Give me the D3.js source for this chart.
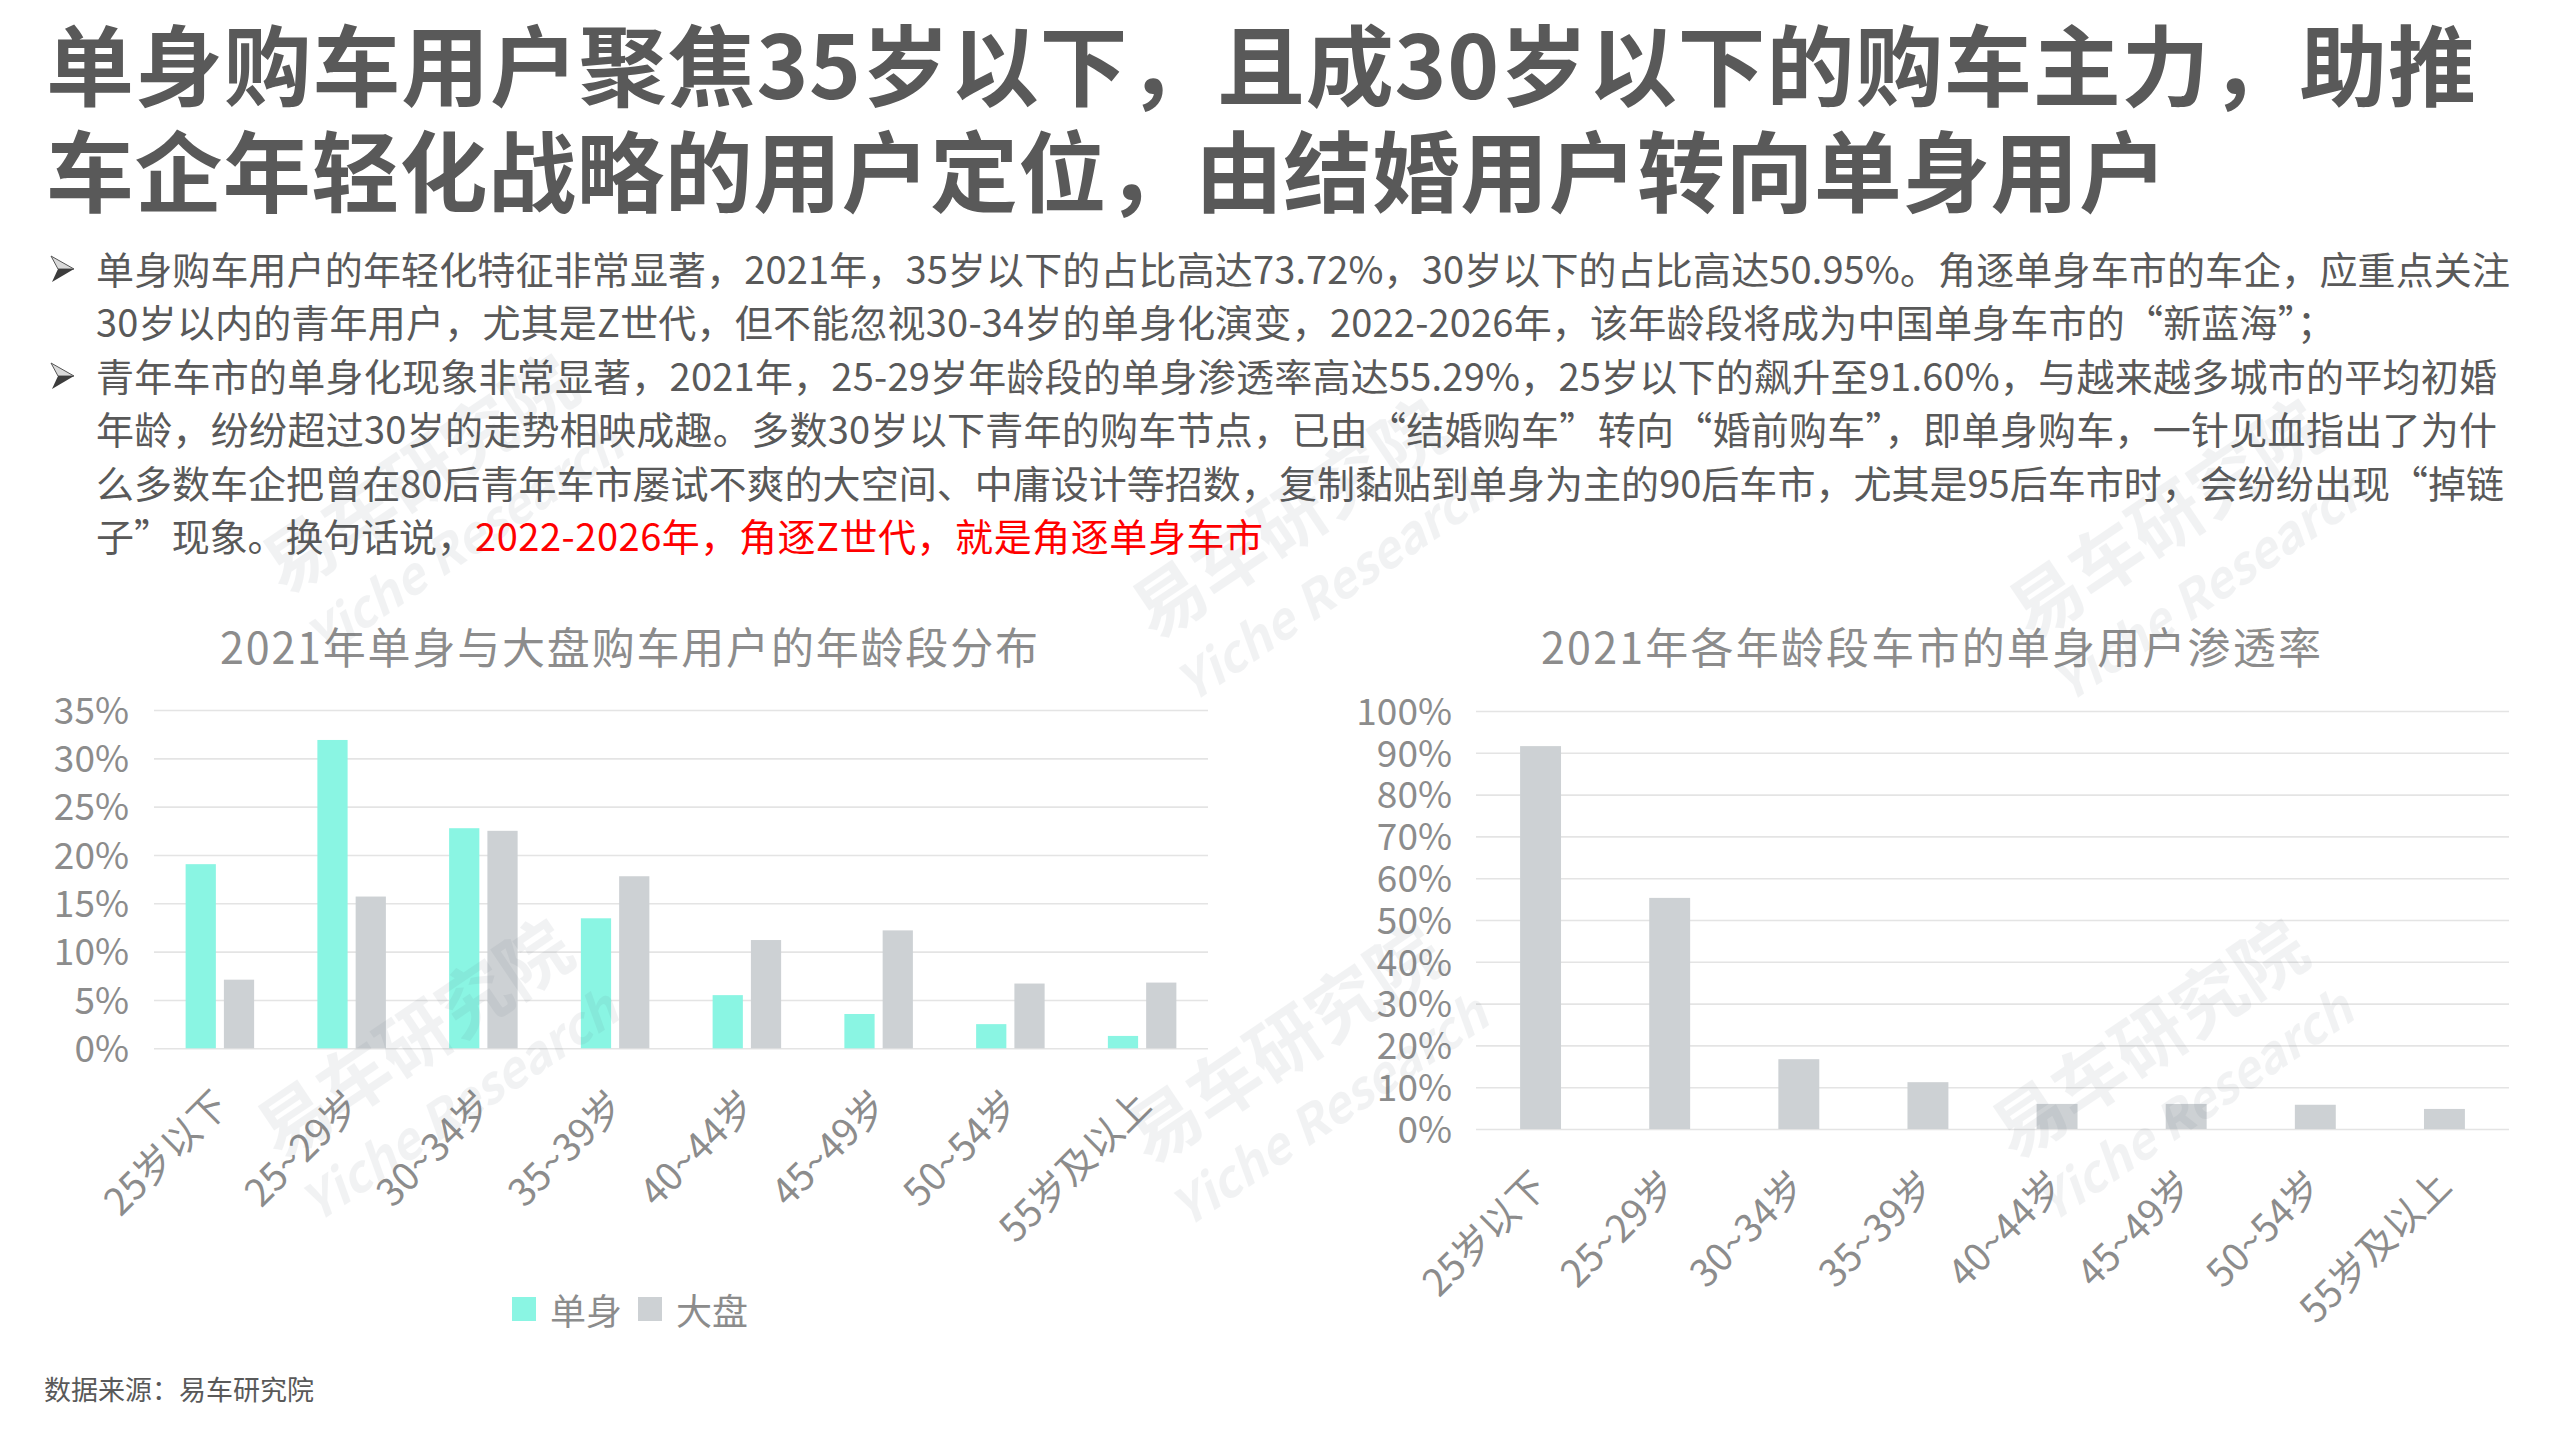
<!DOCTYPE html>
<html><head><meta charset="utf-8">
<script src="https://cdn.jsdelivr.net/npm/d3@7"></script>
<style>
html,body{margin:0;padding:0;background:#fff;}
svg{display:block;}
text{font-family:"Microsoft YaHei","Noto Sans CJK SC","Noto Sans",sans-serif;}
</style></head><body>
<svg id="c" width="2560" height="1440"></svg>
<script>
// ---------- data ----------
const titleLines = [
  "单身购车用户聚焦35岁以下，且成30岁以下的购车主力，助推",
  "车企年轻化战略的用户定位，由结婚用户转向单身用户"
];
const bullet1Lines = [
  "单身购车用户的年轻化特征非常显著，2021年，35岁以下的占比高达73.72%，30岁以下的占比高达50.95%。角逐单身车市的车企，应重点关注",
  "30岁以内的青年用户，尤其是Z世代，但不能忽视30-34岁的单身化演变，2022-2026年，该年龄段将成为中国单身车市的“新蓝海”；"
];
const bullet2Lines = [
  "青年车市的单身化现象非常显著，2021年，25-29岁年龄段的单身渗透率高达55.29%，25岁以下的飙升至91.60%，与越来越多城市的平均初婚",
  "年龄，纷纷超过30岁的走势相映成趣。多数30岁以下青年的购车节点，已由“结婚购车”转向“婚前购车”，即单身购车，一针见血指出了为什",
  "么多数车企把曾在80后青年车市屡试不爽的大空间、中庸设计等招数，复制黏贴到单身为主的90后车市，尤其是95后车市时，会纷纷出现“掉链",
  "子”现象。换句话说，"
];
const bullet2Highlight = "2022-2026年，角逐Z世代，就是角逐单身车市";
const leftTitle = "2021年单身与大盘购车用户的年龄段分布";
const rightTitle = "2021年各年龄段车市的单身用户渗透率";
const categories = ["25岁以下","25~29岁","30~34岁","35~39岁","40~44岁","45~49岁","50~54岁","55岁及以上"];
const seriesNames = ["单身","大盘"];
const singleShare  = [19.05, 31.90, 22.77, 13.45, 5.50, 3.55, 2.50, 1.28];
const overallShare = [7.1, 15.7, 22.5, 17.8, 11.2, 12.2, 6.7, 6.8];
const penetration  = [91.60, 55.29, 16.7, 11.2, 6.0, 6.0, 5.8, 4.8];
const leftTicks  = [0,5,10,15,20,25,30,35];
const rightTicks = [0,10,20,30,40,50,60,70,80,90,100];
const sourceText = "数据来源：易车研究院";
const watermarkCN = "易车研究院";
const watermarkEN = "Yiche Research";

// ---------- styles ----------
const C_TITLE = "#595959", C_BODY = "#595959", C_AX = "#8c8c8c";
const C_SINGLE = "#8af5e3", C_ALL = "#cdd1d4", C_GRID = "#e4e4e4";
const svg = d3.select("#c");

// ---------- header ----------
svg.append("text").attr("x",46).attr("y",99).attr("font-size",88).attr("font-weight",700)
  .attr("fill",C_TITLE).attr("textLength",2430).attr("lengthAdjust","spacing").text(titleLines[0]);
svg.append("text").attr("x",46).attr("y",205).attr("font-size",88).attr("font-weight",700)
  .attr("fill",C_TITLE).attr("textLength",2121).attr("lengthAdjust","spacing").text(titleLines[1]);

// bullets
const lineY0 = 283.5, lineStep = 53.5, textX = 96;
const lineEnds = [2510, 2335, 2497, 2497, 2504];
const allLines = bullet1Lines.concat(bullet2Lines.slice(0,3));
allLines.forEach((t,i)=>{
  svg.append("text").attr("x",textX).attr("y",lineY0+i*lineStep).attr("font-size",38)
    .attr("fill",C_BODY).attr("textLength",lineEnds[i]-textX).attr("lengthAdjust","spacing").text(t);
});
svg.append("text").attr("x",textX).attr("y",lineY0+5*lineStep).attr("font-size",38)
  .attr("fill",C_BODY).attr("textLength",379).attr("lengthAdjust","spacing").text(bullet2Lines[3]);
svg.append("text").attr("x",475).attr("y",lineY0+5*lineStep).attr("font-size",38)
  .attr("fill","#ff0000").attr("textLength",788).attr("lengthAdjust","spacing").text(bullet2Highlight);

// arrow bullets
[0,2].forEach(i=>{
  const cy = lineY0 + i*lineStep - 14.5;
  svg.append("path").attr("d",`M51,${cy-13} L74,${cy} L58,${cy} Z`).attr("fill","#d9d9d9").attr("stroke","#555").attr("stroke-width",1);
  svg.append("path").attr("d",`M58,${cy} L74,${cy} L52,${cy+13} Z`).attr("fill","#3c3c3c");
});

// ---------- left chart ----------
const L = {x0:154, x1:1208, y0:1048.3, y1:710};
const xL = d3.scaleBand().domain(categories).range([L.x0, L.x1]);
const xL1 = d3.scaleBand().domain(seriesNames)
  .range([xL.bandwidth()*0.24, xL.bandwidth()*0.76]).paddingInner(0.21);
const yL = d3.scaleLinear().domain([0,35]).range([L.y0, L.y1]);

svg.append("text").attr("x",629).attr("y",664).attr("text-anchor","middle").attr("font-size",43)
  .attr("fill",C_AX).attr("textLength",818).attr("lengthAdjust","spacing").text(leftTitle);

const gL = svg.append("g").attr("transform",`translate(${L.x0},0)`)
  .call(d3.axisLeft(yL).tickValues(leftTicks).tickSize(-(L.x1-L.x0)).tickPadding(25).tickFormat(d=>d+"%"));
gL.select(".domain").remove();
gL.selectAll(".tick line").attr("stroke",C_GRID).attr("stroke-width",1.6);
gL.selectAll(".tick text").attr("font-size",37).attr("fill",C_AX).attr("dy","0.36em")
  .attr("font-family","\"Microsoft YaHei\",\"Noto Sans CJK SC\",sans-serif");

const leftData = categories.map((c,i)=>({c, vals:[{s:"单身",v:singleShare[i]},{s:"大盘",v:overallShare[i]}]}));
svg.append("g").selectAll("g").data(leftData).join("g")
  .attr("transform",d=>`translate(${xL(d.c)},0)`)
  .selectAll("rect").data(d=>d.vals).join("rect")
  .attr("x",d=>xL1(d.s)).attr("width",xL1.bandwidth())
  .attr("y",d=>yL(d.v)).attr("height",d=>yL(0)-yL(d.v))
  .attr("fill",d=>d.s==="单身"?C_SINGLE:C_ALL);

svg.append("g").selectAll("text").data(categories).join("text")
  .attr("transform",d=>`translate(${xL(d)+xL.bandwidth()/2+11},${L.y0+59}) rotate(-45)`)
  .attr("text-anchor","end").attr("font-size",38).attr("fill",C_AX).text(d=>d);

// legend
const legend = svg.append("g");
seriesNames.forEach((s,i)=>{
  const lx = 512 + i*126;
  legend.append("rect").attr("x",lx).attr("y",1297).attr("width",24).attr("height",24)
    .attr("fill",i===0?C_SINGLE:C_ALL);
  legend.append("text").attr("x",lx+38).attr("y",1325).attr("font-size",36).attr("fill",C_AX).text(s);
});

// ---------- right chart ----------
const R = {x0:1476, x1:2509, y0:1129, y1:711};
const xR = d3.scaleBand().domain(categories).range([R.x0, R.x1]).paddingInner(0.683).paddingOuter(0.3415);
const yR = d3.scaleLinear().domain([0,100]).range([R.y0, R.y1]);

svg.append("text").attr("x",1931).attr("y",664).attr("text-anchor","middle").attr("font-size",43)
  .attr("fill",C_AX).attr("textLength",780).attr("lengthAdjust","spacing").text(rightTitle);

const gR = svg.append("g").attr("transform",`translate(${R.x0},0)`)
  .call(d3.axisLeft(yR).tickValues(rightTicks).tickSize(-(R.x1-R.x0)).tickPadding(24).tickFormat(d=>d+"%"));
gR.select(".domain").remove();
gR.selectAll(".tick line").attr("stroke",C_GRID).attr("stroke-width",1.6);
gR.selectAll(".tick text").attr("font-size",37).attr("fill",C_AX).attr("dy","0.36em")
  .attr("font-family","\"Microsoft YaHei\",\"Noto Sans CJK SC\",sans-serif");

svg.append("g").selectAll("rect").data(categories.map((c,i)=>({c,v:penetration[i]}))).join("rect")
  .attr("x",d=>xR(d.c)).attr("width",xR.bandwidth())
  .attr("y",d=>yR(d.v)).attr("height",d=>yR(0)-yR(d.v)).attr("fill",C_ALL);

svg.append("g").selectAll("text").data(categories).join("text")
  .attr("transform",d=>`translate(${xR(d)+xR.bandwidth()/2+9},${R.y0+59}) rotate(-45)`)
  .attr("text-anchor","end").attr("font-size",38).attr("fill",C_AX).text(d=>d);

// source
svg.append("text").attr("x",44).attr("y",1400).attr("font-size",27).attr("fill",C_BODY).text(sourceText);

// ---------- watermarks ----------
const wm = svg.append("g").attr("pointer-events","none");
[[420,475],[1290,520],[2167,520],[415,1040],[1285,1045],[2150,1040]].forEach(([x,y])=>{
  const g = wm.append("g").attr("transform",`translate(${x},${y}) rotate(-34)`).attr("opacity",0.07);
  g.append("text").attr("text-anchor","middle").attr("font-size",72).attr("font-weight",700)
    .attr("fill","#4a5a6a").attr("dy","0.35em").text(watermarkCN);
  g.append("text").attr("text-anchor","middle").attr("font-size",50).attr("font-weight",700)
    .attr("font-style","italic").attr("font-family","\"Noto Sans\",sans-serif")
    .attr("fill","#4a5a6a").attr("y",80).attr("dy","0.35em").text(watermarkEN);
});
</script>
</body></html>
